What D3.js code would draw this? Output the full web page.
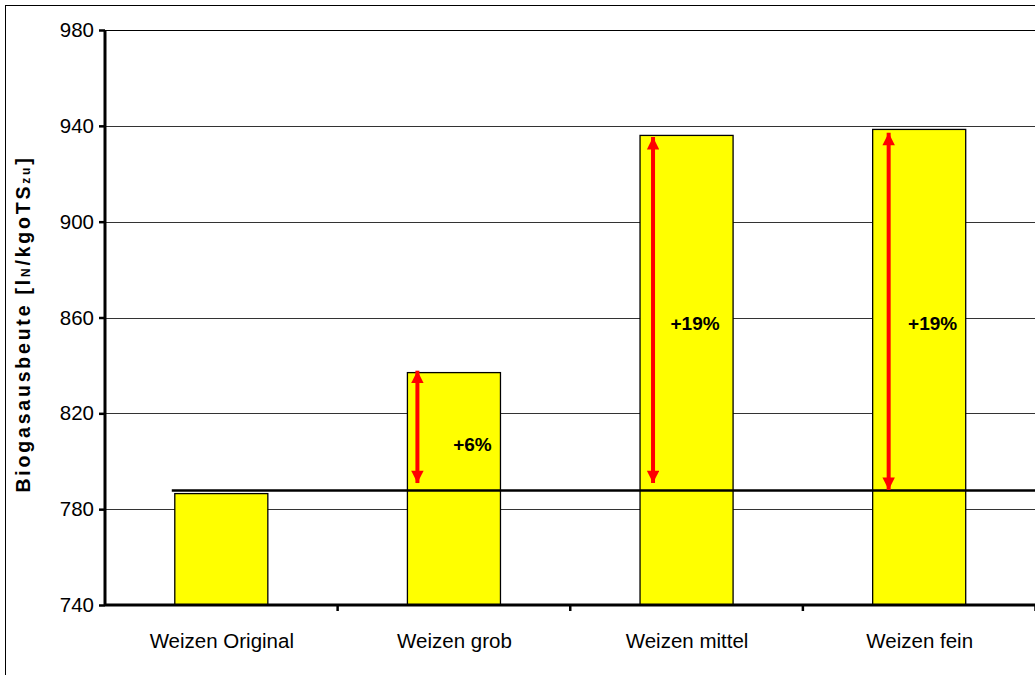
<!DOCTYPE html>
<html><head><meta charset="utf-8">
<script src="https://cdn.jsdelivr.net/npm/d3@7"></script>
<style>html,body{margin:0;padding:0;background:#fff;}svg{display:block;font-family:"Liberation Sans",Arial,sans-serif;}</style>
</head><body>
<svg id="c" width="1035" height="675"></svg>
<script>
const categories = ["Weizen Original", "Weizen grob", "Weizen mittel", "Weizen fein"];
const values = [786.5, 837, 936, 938.5];
const baseline = 787.8;
const increaseLabels = [null, "+6%", "+19%", "+19%"];
const arrowTop = [null, 837.8, 935.3, 937.1];
const arrowBottom = [null, 790.9, 790.9, 788];
const yTicks = [740, 780, 820, 860, 900, 940, 980];

const svg = d3.select("#c");
const x = d3.scaleBand().domain(categories).range([105, 1035.5]).paddingInner(0.6).paddingOuter(0.3);
const xb = d3.scaleBand().domain(categories).range([105, 1035.5]);
const y = d3.scaleLinear().domain([740, 980]).range([605, 30]);

// outer frame
svg.append("rect").attr("x", 5.5).attr("y", 5.5).attr("width", 1040).attr("height", 680)
  .attr("fill", "none").attr("stroke", "#000").attr("stroke-width", 1);

// gridlines
svg.append("g").selectAll("line").data(yTicks.filter(d => d > 740)).join("line")
  .attr("x1", 105).attr("x2", 1035).attr("y1", d => Math.round(y(d)) + 0.5).attr("y2", d => Math.round(y(d)) + 0.5)
  .attr("stroke", d => d === 980 ? "#000" : "#333").attr("stroke-width", 1);

// bars
svg.append("g").selectAll("rect").data(categories).join("rect")
  .attr("x", d => x(d)).attr("width", x.bandwidth())
  .attr("y", (d, i) => y(values[i])).attr("height", (d, i) => y(740) - y(values[i]))
  .attr("fill", "#ffff00").attr("stroke", "#000").attr("stroke-width", 1.3);

// baseline reference line
svg.append("line").attr("x1", x(categories[0]) - 3).attr("x2", 1035)
  .attr("y1", y(baseline)).attr("y2", y(baseline)).attr("stroke", "#000").attr("stroke-width", 2.5);

// arrows
const defs = svg.append("defs");
defs.append("marker").attr("id", "ah").attr("viewBox", "0 0 10 10").attr("refX", 10).attr("refY", 5)
  .attr("markerWidth", 3.6).attr("markerHeight", 3.1).attr("orient", "auto-start-reverse")
  .attr("markerUnits", "strokeWidth")
  .append("path").attr("d", "M0,0 L10,5 L0,10 Z").attr("fill", "#ff0000");
const arrowOff = [0, 10, 13, 16];
categories.forEach((c, i) => {
  if (!increaseLabels[i]) return;
  const ax = x(c) + arrowOff[i];
  svg.append("line").attr("x1", ax).attr("x2", ax)
    .attr("y1", y(arrowTop[i])).attr("y2", y(arrowBottom[i]))
    .attr("stroke", "#ff0000").attr("stroke-width", 4)
    .attr("marker-start", "url(#ah)").attr("marker-end", "url(#ah)");
});

// percent labels
const lblOff = [0, 65, 55, 60];
const lblY = [0, 807.2, 857.7, 857.7];
categories.forEach((c, i) => {
  if (!increaseLabels[i]) return;
  svg.append("text").attr("x", x(c) + lblOff[i]).attr("y", y(lblY[i]))
    .attr("text-anchor", "middle").attr("dominant-baseline", "central")
    .attr("font-size", 19).attr("font-weight", "bold").text(increaseLabels[i]);
});

// y axis
const ya = svg.append("g").attr("transform", "translate(105,0)")
  .call(d3.axisLeft(y).tickValues(yTicks).tickSize(6).tickPadding(5).tickFormat(d3.format("d")));
ya.select(".domain").attr("stroke-width", 3).attr("d", "M0,30V605");
ya.selectAll(".tick line").attr("stroke-width", 2.5);
ya.selectAll("text").attr("font-size", 20.5).attr("font-family", "Liberation Sans, Arial, sans-serif").attr("fill", "#000");

// x axis
const xa = svg.append("g").attr("transform", "translate(0,605)");
xa.append("line").attr("x1", 105).attr("x2", 1035).attr("stroke", "#000").attr("stroke-width", 3);
xa.selectAll("line.tk").data(categories).join("line").attr("class", "tk")
  .attr("x1", d => xb(d) + xb.bandwidth()).attr("x2", d => xb(d) + xb.bandwidth())
  .attr("y1", 0).attr("y2", 6).attr("stroke", "#000").attr("stroke-width", 2.5);
xa.selectAll("text").data(categories).join("text")
  .attr("x", d => xb(d) + xb.bandwidth() / 2 + 0.5).attr("y", 43)
  .attr("text-anchor", "middle").attr("font-size", 20.5).text(d => d);

// y label
const yl = svg.append("text").attr("transform", "translate(30,324) rotate(-90)")
  .attr("text-anchor", "middle").attr("font-size", 19.5).attr("font-weight", "bold")
  .attr("letter-spacing", 2.8);
yl.append("tspan").text("Biogasausbeute [l");
yl.append("tspan").attr("font-size", 12).text("N");
yl.append("tspan").text("/kgoTS");
yl.append("tspan").attr("font-size", 12).text("zu");
yl.append("tspan").text("]");
</script>
</body></html>
